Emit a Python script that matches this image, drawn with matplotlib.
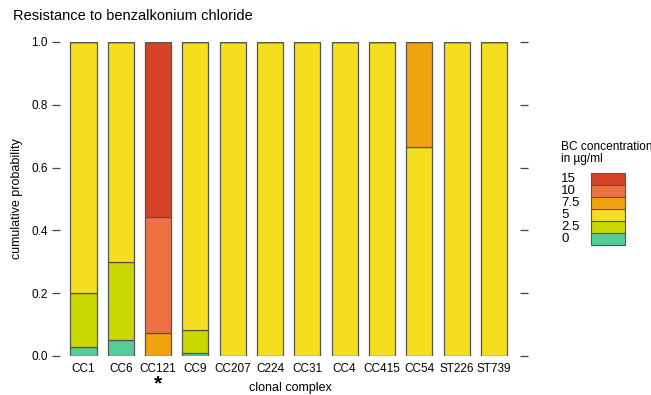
import matplotlib
matplotlib.use("Agg")
import matplotlib.pyplot as plt
from matplotlib.patches import Rectangle
import numpy as np

plt.rcParams['font.family'] = ['Liberation Sans', 'DejaVu Sans']

# clonal complexes and share of isolates at each BC concentration (ug/ml)
groups = ["CC1", "CC6", "CC121", "CC9", "CC207", "C224", "CC31", "CC4",
          "CC415", "CC54", "ST226", "ST739"]
levels = ["0", "2.5", "5", "7.5", "10", "15"]
p0   = [0.029, 0.050, 0.000, 0.010, 0, 0, 0, 0, 0, 0.000, 0, 0]
p2_5 = [0.171, 0.250, 0.000, 0.073, 0, 0, 0, 0, 0, 0.000, 0, 0]
p5   = [0.800, 0.700, 0.000, 0.917, 1, 1, 1, 1, 1, 0.667, 1, 1]
p7_5 = [0.000, 0.000, 0.074, 0.000, 0, 0, 0, 0, 0, 0.333, 0, 0]
p10  = [0.000, 0.000, 0.370, 0.000, 0, 0, 0, 0, 0, 0.000, 0, 0]
p15  = [0.000, 0.000, 0.556, 0.000, 0, 0, 0, 0, 0, 0.000, 0, 0]
shares = [p0, p2_5, p5, p7_5, p10, p15]
colors = ["#54cc9c", "#c8d800", "#f5dd1f", "#f1a20f", "#ee7241", "#d44228"]
edge = "#555555"

fig = plt.figure(figsize=(6.51, 3.95), dpi=100)
W, H = 651, 395
ax = fig.add_axes([60 / W, (H - 356) / H, (520 - 60) / W, 314 / H])

x = np.arange(len(groups))
bottom = np.zeros(len(groups))
for vals, col in zip(shares, colors):
    vals = np.array(vals)
    ax.bar(x, vals, bottom=bottom, width=0.7, color=col, edgecolor=edge,
           linewidth=0.9)
    bottom += vals

ax.set_xlim(-0.63, 11.70)
ax.set_ylim(0, 1)
for s in ax.spines.values():
    s.set_visible(False)
ax.set_yticks([0, 0.2, 0.4, 0.6, 0.8, 1.0])
ax.set_yticklabels(["0.0", "0.2", "0.4", "0.6", "0.8", "1.0"])
ax.tick_params(axis="y", left=True, right=True, labelright=False,
               length=6, width=0.9, color="#444444", labelsize=8.5, pad=3)
ax.set_xticks(x)
ax.set_xticklabels(groups)
ax.tick_params(axis="x", length=0, labelsize=8.5, pad=5)

ax.set_xlabel("clonal complex", fontsize=9, labelpad=5)
ax.set_ylabel("cumulative probability", fontsize=9, labelpad=6)
ax.text(2, -0.09, "*", transform=ax.transData, ha="center", va="center",
        fontsize=15, fontweight="bold", clip_on=False)

fig.text(13 / W, 1 - 16 / H, "Resistance to benzalkonium chloride",
         fontsize=10.5, va="center", ha="left")

# legend, title runs off the right edge
fig.text(561 / W, 1 - 147 / H, "BC concentration", fontsize=8.6, va="center")
fig.text(561 / W, 1 - 159 / H, "in µg/ml", fontsize=8.6, va="center")
box_h = 12
for i, (lab, col) in enumerate(zip(levels, colors)):
    top = 245 - (i + 1) * box_h
    fig.patches.append(Rectangle((591 / W, 1 - (top + box_h) / H),
                                 34 / W, box_h / H, facecolor=col,
                                 edgecolor=edge, linewidth=0.8,
                                 transform=fig.transFigure, figure=fig))
    fig.text(561 / W, 1 - (top + box_h / 2) / H, lab, fontsize=9.5,
             va="center", ha="left")

fig.savefig("out.png", dpi=100)
